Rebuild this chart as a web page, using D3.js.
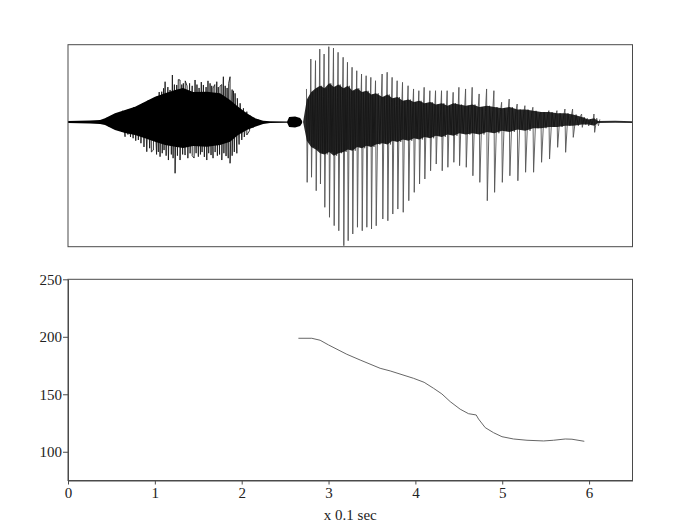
<!DOCTYPE html>
<html><head><meta charset="utf-8">
<script src="https://cdn.jsdelivr.net/npm/d3@7"></script>
<style>body{margin:0;background:#fff}</style>
</head><body><svg id="c" width="700" height="525"></svg>
<script>
// ---- Data (time in units of 0.1 s) ----
// Fricative noise dense envelope: [time, upper, lower] (normalized amplitude)
const noiseCore = [
  [0.000,0.008,-0.008],[0.253,0.012,-0.012],[0.369,0.016,-0.016],[0.426,0.030,-0.024],
  [0.541,0.070,-0.064],[0.657,0.096,-0.088],[0.772,0.123,-0.104],[0.887,0.163,-0.131],
  [1.002,0.203,-0.158],[1.118,0.230,-0.184],[1.233,0.257,-0.198],[1.325,0.273,-0.209],
  [1.440,0.241,-0.192],[1.601,0.243,-0.198],[1.751,0.230,-0.184],[1.866,0.176,-0.158],
  [1.959,0.123,-0.104],[2.059,0.070,-0.064],[2.154,0.030,-0.038],[2.247,0.010,-0.016],
  [2.327,0.006,-0.008],[2.523,0.004,-0.006],[2.546,0.040,-0.040],[2.615,0.044,-0.044],
  [2.673,0.032,-0.032],[2.696,0.008,-0.008]
];
// Noise peaks: [time, amplitude]
const noiseTops = [
  [0.45,0.035],[0.50,0.05],[0.55,0.06],[0.60,0.07],[0.63,0.09],[0.66,0.08],[0.695,0.102],[0.73,0.09],
  [0.76,0.12],[0.795,0.11],[0.829,0.123],[0.86,0.15],[0.89,0.14],[0.925,0.176],[0.955,0.17],
  [0.99,0.19],[1.022,0.203],[1.05,0.24],[1.079,0.243],[1.10,0.27],[1.118,0.323],[1.15,0.28],
  [1.175,0.257],[1.202,0.377],[1.225,0.30],[1.252,0.297],[1.27,0.34],[1.290,0.337],[1.310,0.30],
  [1.328,0.310],[1.35,0.33],[1.371,0.289],[1.40,0.31],[1.43,0.29],[1.463,0.337],[1.485,0.30],
  [1.509,0.273],[1.535,0.32],[1.559,0.297],[1.59,0.28],[1.612,0.33],[1.636,0.310],[1.655,0.29],
  [1.671,0.273],[1.690,0.30],[1.713,0.323],[1.73,0.28],[1.751,0.289],[1.77,0.30],[1.789,0.363],
  [1.81,0.29],[1.832,0.273],[1.85,0.31],[1.866,0.363],[1.89,0.26],[1.905,0.25],[1.924,0.230],
  [1.95,0.19],[1.982,0.150],[2.02,0.11],[2.059,0.083],[2.10,0.05],[2.14,0.035],[2.19,0.02]
];
const noiseBottoms = [
  [0.47,-0.035],[0.52,-0.05],[0.58,-0.06],[0.62,-0.08],[0.657,-0.118],[0.69,-0.10],[0.72,-0.12],[0.75,-0.13],
  [0.78,-0.15],[0.810,-0.144],[0.84,-0.17],[0.875,-0.20],[0.907,-0.238],[0.94,-0.21],[0.96,-0.24],
  [0.983,-0.225],[1.02,-0.26],[1.040,-0.24],[1.060,-0.278],[1.085,-0.25],[1.106,-0.225],[1.13,-0.27],
  [1.156,-0.305],[1.19,-0.26],[1.21,-0.29],[1.233,-0.411],[1.26,-0.27],[1.290,-0.305],[1.32,-0.26],
  [1.348,-0.265],[1.38,-0.29],[1.406,-0.251],[1.43,-0.27],[1.452,-0.289],[1.475,-0.25],[1.501,-0.278],
  [1.525,-0.26],[1.544,-0.241],[1.57,-0.28],[1.598,-0.305],[1.62,-0.25],[1.647,-0.265],[1.67,-0.29],
  [1.694,-0.241],[1.72,-0.27],[1.745,-0.26],[1.771,-0.305],[1.795,-0.25],[1.820,-0.273],[1.845,-0.29],
  [1.866,-0.331],[1.89,-0.27],[1.915,-0.24],[1.944,-0.251],[1.97,-0.18],[2.001,-0.144],[2.03,-0.12],
  [2.059,-0.104],[2.09,-0.07],[2.13,-0.045],[2.17,-0.03]
];
// Glottal pulses: [time, peak, trough, ripple upper, ripple lower]
const pulses = [
  [2.750,0.265,-0.484,0.18,-0.15],[2.800,0.505,-0.443,0.24,-0.20],[2.854,0.492,-0.551,0.27,-0.22],
  [2.903,0.585,-0.497,0.29,-0.25],[2.953,0.545,-0.684,0.27,-0.26],[3.007,0.604,-0.764,0.31,-0.24],
  [3.061,0.593,-0.831,0.28,-0.27],[3.114,0.559,-0.872,0.30,-0.25],[3.172,0.519,-0.992,0.27,-0.24],
  [3.222,0.479,-0.952,0.29,-0.22],[3.275,0.439,-0.898,0.25,-0.23],[3.329,0.411,-0.844,0.27,-0.20],
  [3.384,0.385,-0.872,0.24,-0.21],[3.437,0.371,-0.844,0.25,-0.19],[3.491,0.358,-0.858,0.22,-0.20],
  [3.545,0.331,-0.832,0.23,-0.18],[3.621,0.385,-0.778,0.20,-0.17],[3.679,0.399,-0.792,0.22,-0.18],
  [3.736,0.358,-0.738,0.19,-0.15],[3.794,0.331,-0.698,0.20,-0.16],[3.856,0.318,-0.724,0.17,-0.14],
  [3.920,0.291,-0.631,0.18,-0.15],[3.983,0.265,-0.564,0.16,-0.13],[4.044,0.251,-0.497,0.17,-0.14],
  [4.105,0.278,-0.457,0.15,-0.12],[4.171,0.251,-0.391,0.16,-0.13],[4.236,0.251,-0.337,0.14,-0.11],
  [4.305,0.251,-0.391,0.15,-0.12],[4.370,0.251,-0.363,0.13,-0.10],[4.439,0.238,-0.323,0.15,-0.11],
  [4.505,0.278,-0.350,0.14,-0.09],[4.582,0.265,-0.363,0.13,-0.10],[4.658,0.278,-0.431,0.14,-0.09],
  [4.738,0.225,-0.484,0.12,-0.10],[4.824,0.265,-0.631,0.13,-0.08],[4.908,0.251,-0.564,0.12,-0.09],
  [4.997,0.158,-0.484,0.11,-0.07],[5.084,0.184,-0.431,0.12,-0.08],[5.176,0.144,-0.471,0.10,-0.06],
  [5.265,0.131,-0.403,0.10,-0.07],[5.357,0.118,-0.403,0.09,-0.05],[5.449,0.078,-0.323,0.08,-0.05],
  [5.541,0.091,-0.297,0.08,-0.04],[5.634,0.091,-0.203,0.07,-0.04],[5.726,0.104,-0.243,0.07,-0.03],
  [5.814,0.104,-0.123,0.06,-0.03],[5.918,0.064,-0.043,0.04,-0.02],[5.991,0.024,-0.032,0.02,-0.02],
  [6.060,0.064,-0.083,0.03,-0.03]
];
// Voicing onset and silent tail: [time, upper, lower]
const voicedOnset = [[2.707,0.000,0.000]];
const tail = [[6.100,0.008,-0.008],[6.300,0.010,-0.006],[6.500,0.006,-0.008]];
// Pitch track: [time, Hz]
const pitch = [
  [2.653,198.7],[2.807,198.7],[2.903,197.0],[3.000,192.9],[3.210,184.8],[3.364,179.8],
  [3.594,172.6],[3.710,170.3],[3.978,163.9],[4.101,160.4],[4.209,155.2],[4.305,150.3],
  [4.401,143.6],[4.516,137.0],[4.612,133.1],[4.700,132.0],[4.727,128.5],[4.804,121.0],
  [4.900,116.6],[4.997,113.1],[5.130,111.1],[5.285,110.0],[5.476,109.4],[5.590,110.0],
  [5.726,111.1],[5.803,110.9],[5.945,109.1]
];
const xTicks = [0,1,2,3,4,5,6];
const yTicks = [100,150,200,250];
const xLabel = "x 0.1 sec";

// ---- Scales ----
const svg = d3.select("#c");
const x = d3.scaleLinear().domain([0,6.5]).range([68,632.5]);
const yW = d3.scaleLinear().domain([-1,0.62]).range([246.7,44.7]);
const yP = d3.scaleLinear().domain([75,250]).range([480.5,279.3]);
const font = "'Liberation Serif','Times New Roman',serif";
const frame = "#4a4a4a";

// ---- Waveform ----
const area = d3.area().x(d=>x(d[0])).y0(d=>yW(d[2])).y1(d=>yW(d[1]));
const line = d3.line().x(d=>x(d[0])).y(d=>yW(d[1]));
const gw = svg.append("g");
// fricative: zigzag through the peaks + dense black core
const noisePts = noiseTops.concat(noiseBottoms).sort((a,b)=>a[0]-b[0]);
gw.append("path").datum(noisePts).attr("d",line)
  .attr("fill","none").attr("stroke","#1a1a1a").attr("stroke-width",0.9);
gw.append("path").datum(noiseCore).attr("d",area).attr("fill","#000");
// voiced: waveform trace, each period = peak -> trough -> ripple up -> ripple down
const trace = [];
pulses.forEach((p,i)=>{
  const nt = i<pulses.length-1 ? pulses[i+1][0] : p[0]+0.08;
  const per = nt-p[0];
  trace.push([p[0]-0.004,p[1]],[p[0]+0.004,p[2]],[p[0]+per*0.35,p[3]],[p[0]+per*0.6,p[4]],[p[0]+per*0.8,p[3]*0.7]);
});
gw.append("path").datum(trace).attr("d",line)
  .attr("fill","none").attr("stroke","#555").attr("stroke-width",0.9);
const coreRows = voicedOnset.concat(pulses.map(p=>[p[0],p[3],p[4]]), tail);
gw.append("path").datum(coreRows).attr("d",area).attr("fill","#0d0d0d").attr("fill-opacity",0.88);
svg.append("rect").attr("x",x(0)).attr("y",yW(0.62)).attr("width",x(6.5)-x(0))
  .attr("height",yW(-1)-yW(0.62)).attr("fill","none").attr("stroke",frame).attr("stroke-width",1);

// ---- Pitch panel ----
const ax = svg.append("g").attr("transform",`translate(0,${yP(75)})`)
  .call(d3.axisBottom(x).tickValues(xTicks).tickSize(4).tickSizeOuter(0).tickPadding(3).tickFormat(d3.format("d")));
const ay = svg.append("g").attr("transform",`translate(${x(0)},0)`)
  .call(d3.axisLeft(yP).tickValues(yTicks).tickSize(5).tickSizeOuter(0).tickPadding(1).tickFormat(d3.format("d")));
[ax,ay].forEach(g=>{
  g.selectAll("text").attr("font-family",font).attr("font-size",15).attr("fill","#222");
  g.selectAll("line,path").attr("stroke",frame);
});
svg.append("rect").attr("x",x(0)).attr("y",yP(250)).attr("width",x(6.5)-x(0))
  .attr("height",yP(75)-yP(250)).attr("fill","none").attr("stroke",frame).attr("stroke-width",1);
svg.append("path").datum(pitch)
  .attr("d",d3.line().x(d=>x(d[0])).y(d=>yP(d[1])))
  .attr("fill","none").attr("stroke","#555").attr("stroke-width",0.9);
svg.append("text").attr("x",(x(0)+x(6.5))/2).attr("y",520).attr("text-anchor","middle")
  .attr("font-family",font).attr("font-size",15).attr("fill","#222").text(xLabel);
</script></body></html>
